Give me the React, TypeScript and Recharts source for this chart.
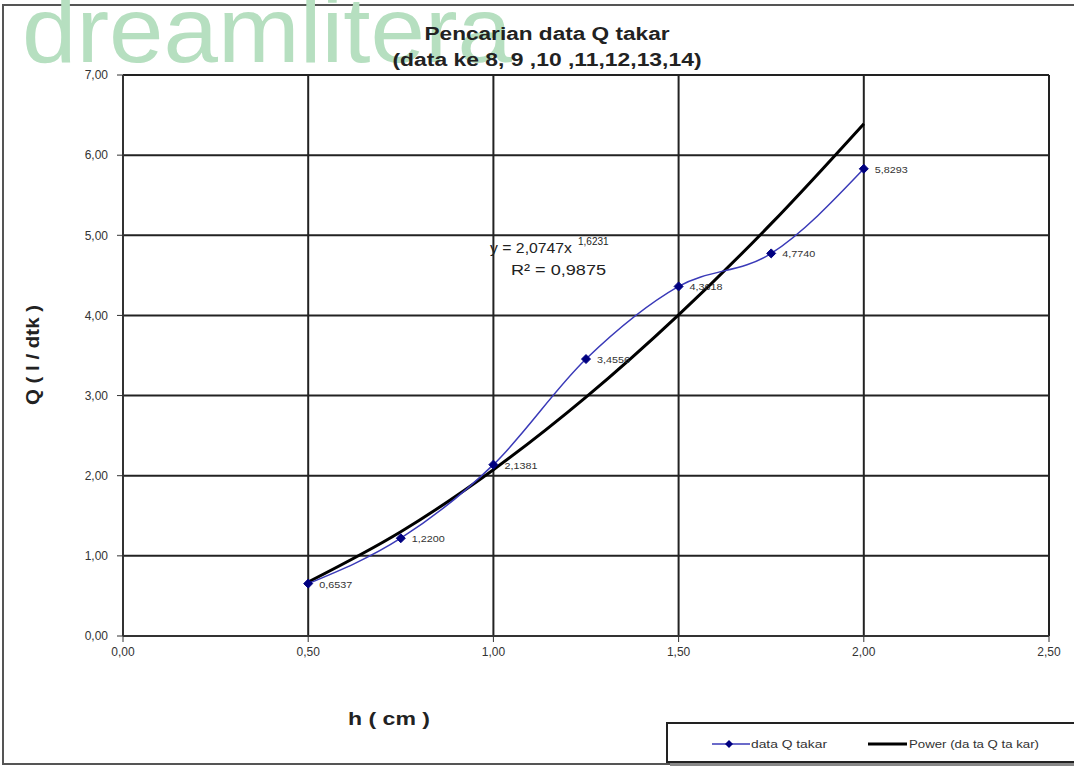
import React from 'react';
import { ComposedChart, Line, XAxis, YAxis, CartesianGrid, LabelList } from 'recharts';

const hValues = [0.5, 0.75, 1.0, 1.25, 1.5, 1.75, 2.0];
const qTakar = [0.6537, 1.22, 2.1381, 3.4556, 4.3618, 4.774, 5.8293];
const powerTrend = [0.6735, 1.3006, 2.0747, 2.98, 4.007, 5.145, 6.391];
const xTicks = [0, 0.5, 1.0, 1.5, 2.0, 2.5];
const yTicks = [0, 1, 2, 3, 4, 5, 6, 7];

const data = hValues.map((h, i) => ({ h, q: qTakar[i], power: powerTrend[i] }));

const FONT = '"Liberation Sans", Arial, sans-serif';
const BLUE = '#3a3ab8';
const NAVY = '#000080';

const fmt2 = (v: number) => v.toFixed(2).replace('.', ',');
const fmt4 = (v: number) => v.toFixed(4).replace('.', ',');

const Diamond = (props: any) => {
  const { cx, cy } = props;
  if (cx == null || cy == null) return null;
  const s = 4.5;
  return <polygon points={`${cx},${cy - s} ${cx + s},${cy} ${cx},${cy + s} ${cx - s},${cy}`} fill={NAVY} stroke={NAVY} />;
};

const PointLabel = (props: any) => {
  const { x, y, value } = props;
  if (x == null || y == null) return null;
  return (
    <text x={x + 11} y={y + 4} fontSize={9.5} fill="#333" fontFamily={FONT} textAnchor="start" textLength={33} lengthAdjust="spacingAndGlyphs">
      {fmt4(value)}
    </text>
  );
};

export default function App() {
  return (
    <div style={{ position: 'absolute', left: 0, top: 0, width: 1074, height: 766, background: '#fff', overflow: 'hidden' }}>
      <svg width={1074} height={766} style={{ position: 'absolute', left: 0, top: 0 }}>
        <rect x={3} y={5} width={1090} height={759} fill="none" stroke="#555" strokeWidth={2} />
        <text x={22} y={62} fontSize={92} fontFamily={FONT} fill="#b6dfc0" textLength={490} lengthAdjust="spacingAndGlyphs">
          dreamlitera
        </text>
      </svg>
      <div style={{ position: 'absolute', left: 0, top: 0 }}>
        <ComposedChart width={1074} height={766} data={data} margin={{ top: 75, right: 25, bottom: 100, left: 0 }}>
          <CartesianGrid stroke="#222" strokeWidth={2} />
          <XAxis
            dataKey="h"
            type="number"
            domain={[0, 2.5]}
            ticks={xTicks}
            tickFormatter={fmt2}
            height={30}
            tickSize={6}
            tickMargin={5}
            axisLine={{ stroke: '#333', strokeWidth: 2 }}
            tickLine={{ stroke: '#333' }}
            tick={{ fill: '#333', fontSize: 12, fontFamily: FONT }}
            allowDataOverflow
          />
          <YAxis
            type="number"
            domain={[0, 7]}
            ticks={yTicks}
            tickFormatter={fmt2}
            width={123}
            tickSize={6}
            tickMargin={9}
            axisLine={{ stroke: '#333', strokeWidth: 2 }}
            tickLine={{ stroke: '#333' }}
            tick={{ fill: '#333', fontSize: 12, fontFamily: FONT }}
            allowDataOverflow
          />
          <Line
            type="monotone"
            dataKey="power"
            stroke="#000"
            strokeWidth={3}
            dot={false}
            isAnimationActive={false}
          />
          <Line
            type="monotone"
            dataKey="q"
            stroke={BLUE}
            strokeWidth={1.5}
            dot={<Diamond />}
            isAnimationActive={false}
          >
            <LabelList dataKey="q" content={<PointLabel />} />
          </Line>
        </ComposedChart>
      </div>
      <svg width={1074} height={766} style={{ position: 'absolute', left: 0, top: 0, pointerEvents: 'none' }}>
        <text x={547} y={40} textAnchor="middle" fontSize={18} fontWeight="bold" fontFamily={FONT} fill="#222" textLength={245} lengthAdjust="spacingAndGlyphs">
          Pencarian data Q takar
        </text>
        <text x={547} y={66} textAnchor="middle" fontSize={18} fontWeight="bold" fontFamily={FONT} fill="#222" textLength={309} lengthAdjust="spacingAndGlyphs">
          (data ke 8, 9 ,10 ,11,12,13,14)
        </text>
        <text x={490} y={253} fontSize={15.5} fontFamily={FONT} fill="#222" textLength={82} lengthAdjust="spacingAndGlyphs">
          y = 2,0747x
        </text>
        <text x={578} y={245} fontSize={10} fontFamily={FONT} fill="#222">
          1,6231
        </text>
        <text x={511} y={275} fontSize={15.5} fontFamily={FONT} fill="#222" textLength={95} lengthAdjust="spacingAndGlyphs">
          R² = 0,9875
        </text>
        <text
          x={39}
          y={355}
          textAnchor="middle"
          fontSize={18}
          fontWeight="bold"
          fontFamily={FONT}
          fill="#222"
          textLength={100}
          lengthAdjust="spacingAndGlyphs"
          transform="rotate(-90 39 355)"
        >
          Q ( l / dtk )
        </text>
        <text x={389} y={725} textAnchor="middle" fontSize={19} fontWeight="bold" fontFamily={FONT} fill="#222" textLength={82} lengthAdjust="spacingAndGlyphs">
          h ( cm )
        </text>
        <rect x={670} y={726} width={420} height={40} fill="#888" />
        <rect x={667} y={723} width={420} height={39} fill="#fff" stroke="#222" strokeWidth={2} />
        <line x1={712} y1={744} x2={750} y2={744} stroke={BLUE} strokeWidth={1.5} />
        <polygon points="729,740 733,744 729,748 725,744" fill={NAVY} />
        <text x={751} y={748} fontSize={11} fontFamily={FONT} fill="#333" textLength={76} lengthAdjust="spacingAndGlyphs">
          data Q takar
        </text>
        <line x1={868} y1={744} x2={907} y2={744} stroke="#000" strokeWidth={3} />
        <text x={909} y={748} fontSize={11} fontFamily={FONT} fill="#333" textLength={130} lengthAdjust="spacingAndGlyphs">
          Power (da ta Q ta kar)
        </text>
      </svg>
    </div>
  );
}
